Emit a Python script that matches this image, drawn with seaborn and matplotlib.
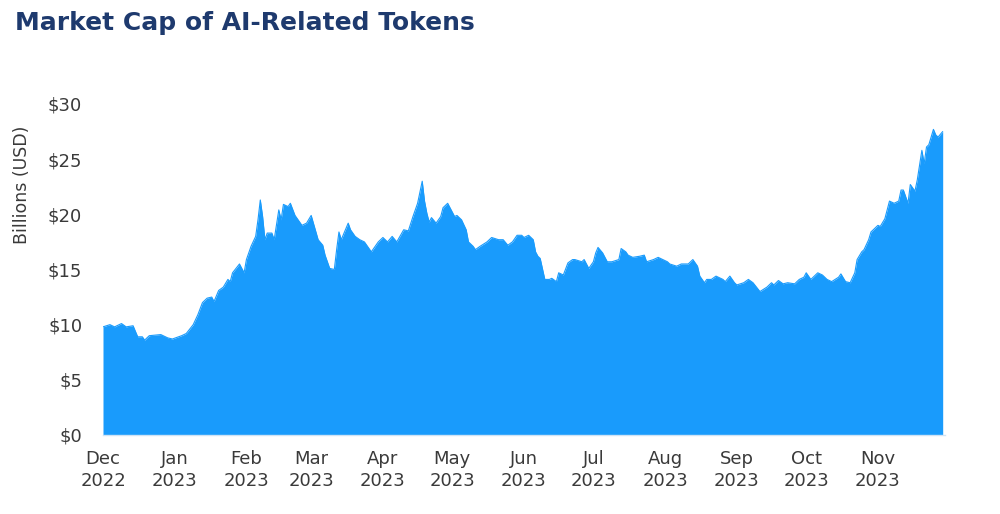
import matplotlib
matplotlib.use("Agg")
import matplotlib.pyplot as plt
import seaborn as sns
import pandas as pd

# ---- data ----
dates = [
    "2022-12-01", "2022-12-04", "2022-12-06", "2022-12-09", "2022-12-11", "2022-12-14",
    "2022-12-16", "2022-12-18", "2022-12-19", "2022-12-21", "2022-12-26", "2022-12-29",
    "2022-12-31", "2023-01-04", "2023-01-06", "2023-01-09", "2023-01-11", "2023-01-13",
    "2023-01-15", "2023-01-17", "2023-01-18", "2023-01-20", "2023-01-22", "2023-01-24",
    "2023-01-25", "2023-01-26", "2023-01-29", "2023-01-31", "2023-02-01", "2023-02-03",
    "2023-02-05", "2023-02-06", "2023-02-07", "2023-02-08", "2023-02-09", "2023-02-10",
    "2023-02-12", "2023-02-13", "2023-02-15", "2023-02-16", "2023-02-17", "2023-02-19",
    "2023-02-20", "2023-02-22", "2023-02-25", "2023-02-27", "2023-03-01", "2023-03-04",
    "2023-03-06", "2023-03-07", "2023-03-09", "2023-03-11", "2023-03-12", "2023-03-13",
    "2023-03-14", "2023-03-17", "2023-03-18", "2023-03-20", "2023-03-22", "2023-03-24",
    "2023-03-27", "2023-03-30", "2023-04-01", "2023-04-03", "2023-04-05", "2023-04-07",
    "2023-04-10", "2023-04-12", "2023-04-14", "2023-04-16", "2023-04-18", "2023-04-19",
    "2023-04-20", "2023-04-21", "2023-04-22", "2023-04-24", "2023-04-26", "2023-04-27",
    "2023-04-29", "2023-04-30", "2023-05-02", "2023-05-03", "2023-05-05", "2023-05-07",
    "2023-05-08", "2023-05-10", "2023-05-11", "2023-05-13", "2023-05-16", "2023-05-18",
    "2023-05-21", "2023-05-23", "2023-05-25", "2023-05-27", "2023-05-29", "2023-05-31",
    "2023-06-01", "2023-06-03", "2023-06-05", "2023-06-06", "2023-06-07", "2023-06-08",
    "2023-06-10", "2023-06-12", "2023-06-13", "2023-06-15", "2023-06-16", "2023-06-18",
    "2023-06-20", "2023-06-22", "2023-06-23", "2023-06-26", "2023-06-27", "2023-06-29",
    "2023-07-01", "2023-07-02", "2023-07-03", "2023-07-05", "2023-07-07", "2023-07-09",
    "2023-07-12", "2023-07-13", "2023-07-15", "2023-07-16", "2023-07-18", "2023-07-21",
    "2023-07-23", "2023-07-24", "2023-07-27", "2023-07-29", "2023-07-31", "2023-08-02",
    "2023-08-03", "2023-08-06", "2023-08-08", "2023-08-11", "2023-08-13", "2023-08-15",
    "2023-08-16", "2023-08-18", "2023-08-19", "2023-08-21", "2023-08-23", "2023-08-26",
    "2023-08-27", "2023-08-29", "2023-08-31", "2023-09-01", "2023-09-04", "2023-09-06",
    "2023-09-08", "2023-09-11", "2023-09-14", "2023-09-16", "2023-09-17", "2023-09-19",
    "2023-09-21", "2023-09-23", "2023-09-26", "2023-09-28", "2023-09-30", "2023-10-01",
    "2023-10-03", "2023-10-04", "2023-10-06", "2023-10-08", "2023-10-10", "2023-10-12",
    "2023-10-15", "2023-10-16", "2023-10-18", "2023-10-20", "2023-10-22", "2023-10-23",
    "2023-10-25", "2023-10-26", "2023-10-28", "2023-10-29", "2023-10-30", "2023-11-01",
    "2023-11-02", "2023-11-04", "2023-11-05", "2023-11-06", "2023-11-08", "2023-11-10",
    "2023-11-11", "2023-11-12", "2023-11-14", "2023-11-15", "2023-11-17", "2023-11-18",
    "2023-11-20", "2023-11-21", "2023-11-22", "2023-11-23", "2023-11-25", "2023-11-26",
    "2023-11-27", "2023-11-29",
]
market_cap = [
    9.8, 10.0, 9.8, 10.1, 9.8, 9.9,
    8.9, 8.9, 8.6, 9.0, 9.1, 8.8,
    8.7, 9.0, 9.2, 10.0, 10.9, 12.0,
    12.4, 12.5, 12.1, 13.1, 13.4, 14.1,
    13.9, 14.7, 15.5, 14.7, 15.9, 17.1,
    18.0, 19.5, 21.3, 19.8, 17.7, 18.3,
    18.3, 17.7, 20.4, 19.5, 20.9, 20.7,
    21.0, 19.9, 19.0, 19.2, 19.9, 17.7,
    17.2, 16.3, 15.1, 15.0, 16.8, 18.4,
    17.7, 19.2, 18.6, 18.0, 17.7, 17.5,
    16.6, 17.5, 17.9, 17.5, 18.0, 17.5,
    18.6, 18.5, 19.8, 21.0, 23.0, 21.2,
    20.1, 19.3, 19.7, 19.2, 19.8, 20.6,
    21.0, 20.6, 19.8, 19.9, 19.5, 18.6,
    17.5, 17.1, 16.8, 17.1, 17.5, 17.9,
    17.7, 17.7, 17.2, 17.5, 18.1, 18.1,
    17.9, 18.1, 17.7, 16.6, 16.2, 16.0,
    14.1, 14.1, 14.2, 13.9, 14.7, 14.5,
    15.6, 15.9, 15.9, 15.7, 15.9, 15.1,
    15.7, 16.5, 17.0, 16.5, 15.7, 15.7,
    15.9, 16.9, 16.6, 16.3, 16.1, 16.2,
    16.3, 15.7, 15.9, 16.1, 15.9, 15.7,
    15.5, 15.3, 15.5, 15.5, 15.9, 15.3,
    14.4, 13.8, 14.1, 14.1, 14.4, 14.1,
    13.9, 14.4, 13.8, 13.6, 13.8, 14.1,
    13.8, 13.0, 13.4, 13.8, 13.6, 14.0,
    13.7, 13.8, 13.7, 14.1, 14.3, 14.7,
    14.1, 14.3, 14.7, 14.5, 14.1, 13.9,
    14.3, 14.6, 13.9, 13.8, 14.7, 15.9,
    16.6, 16.8, 17.7, 18.4, 18.6, 19.0,
    18.9, 19.6, 20.4, 21.2, 21.0, 21.2,
    22.2, 22.2, 21.0, 22.7, 22.1, 23.1,
    25.8, 24.6, 26.1, 26.3, 27.7, 27.2,
    27.0, 27.5,
]
month_ticks = ["2022-12-01", "2023-01-01", "2023-02-01", "2023-03-01", "2023-04-01",
               "2023-05-01", "2023-06-01", "2023-07-01", "2023-08-01", "2023-09-01",
               "2023-10-01", "2023-11-01"]
month_labels = ["Dec\n2022", "Jan\n2023", "Feb\n2023", "Mar\n2023", "Apr\n2023",
                "May\n2023", "Jun\n2023", "Jul\n2023", "Aug\n2023", "Sep\n2023",
                "Oct\n2023", "Nov\n2023"]
y_ticks = [0, 5, 10, 15, 20, 25, 30]
y_labels = ["$0", "$5", "$10", "$15", "$20", "$25", "$30"]

title = "Market Cap of AI-Related Tokens"
y_title = "Billions (USD)"

# ---- styling ----
sns.set_theme(style="white")
plt.rcParams["font.family"] = ["DejaVu Sans"]

FILL = "#199BFC"
NAVY = "#1E3A6E"
TEXT = "#3a3a3a"

df = pd.DataFrame({"date": pd.to_datetime(dates), "cap": market_cap})

fig = plt.figure(figsize=(10.0, 5.14), dpi=100)
ax = fig.add_axes([0.103, 0.1537, 0.842, 0.644])

sns.lineplot(data=df, x="date", y="cap", ax=ax, color=FILL, linewidth=0.8)
ax.fill_between(df["date"], 0, df["cap"], color=FILL, linewidth=0)

ax.set_xlim(pd.Timestamp("2022-12-01"), pd.Timestamp("2023-11-30"))
ax.set_ylim(0, 30)

ax.set_xticks(pd.to_datetime(month_ticks))
ax.set_xticklabels(month_labels, fontsize=13, color=TEXT, linespacing=1.3)
ax.set_yticks(y_ticks)
ax.set_yticklabels(y_labels, fontsize=13, color=TEXT)

ax.tick_params(axis="x", which="major", length=5, width=0.8, color="#d9d9d9", pad=6)
ax.tick_params(axis="y", length=0, pad=15)

for side in ["top", "right", "left"]:
    ax.spines[side].set_visible(False)
ax.spines["bottom"].set_color("#cfe3f5")
ax.spines["bottom"].set_linewidth(1.0)

ax.set_xlabel("")
ax.set_ylabel(y_title, fontsize=12.5, color=TEXT)
ax.yaxis.set_label_coords(-0.086, 0.755)
ax.grid(False)

fig.text(0.015, 0.955, title, fontsize=18, fontweight="bold", color=NAVY,
         ha="left", va="center")

fig.savefig("out.png", dpi=100, facecolor="white")
